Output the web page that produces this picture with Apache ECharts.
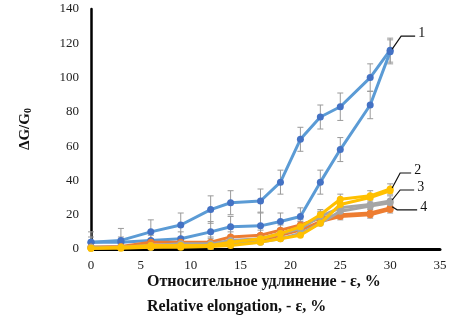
<!DOCTYPE html>
<html lang="ru">
<head>
    <meta charset="UTF-8">
    <title>ΔG/G0 vs elongation</title>
    <script src="https://cdn.jsdelivr.net/npm/echarts@6/dist/echarts.min.js"></script>
    <style>
        html, body { margin: 0; padding: 0; background: #fff; }
        #chart { width: 475px; height: 319px; }
    </style>
</head>
<body>
    <div id="chart"></div>
    <script>
        // относительное удлинение, %
        var strain = [0, 3, 6, 9, 12, 14, 17, 19, 21, 23, 25, 28, 30];

        // кривая 1 (нагрузка / разгрузка)
        var s1a = [4, 5, 10, 14, 23, 27, 28, 39, 64, 77, 83, 100, 116];
        var s1b = [4, 4, 5, 6, 10, 13, 13.5, 16, 19, 39, 58, 84, 115];
        var e1a = [6, 7, 7, 7, 8, 7, 7, 7, 7, 7, 8, 8, 7];
        var e1b = [3, 3, 3, 4, 6, 6, 8, 5, 5, 7, 7, 8, 7];

        // кривая 2
        var s2a = [0.5, 1, 2, 2, 2, 4, 6, 9, 13, 20, 29, 31, 35];
        var s2b = [0.5, 0.5, 1, 1, 1.5, 2, 4, 6, 8, 15, 26, 30, 34];
        // кривая 3
        var s3a = [1, 1, 2, 3, 3, 5, 6, 9, 12, 19, 24, 26, 28];
        var s3b = [0.5, 1, 1, 2, 2, 3, 4, 6, 9, 15, 22, 25, 27];
        // кривая 4
        var s4a = [1, 1.5, 4, 4, 4, 7, 8, 11, 14, 18, 20, 21, 24];
        var s4b = [1, 1, 2, 2, 3, 4, 5, 8, 11, 16, 19, 20, 23];
        var eSmall = [1, 1, 2, 2, 3, 3, 3, 3, 3, 3, 3, 3, 3];

        var xTicks = [0, 5, 10, 15, 20, 25, 30, 35];
        var yTicks = [0, 20, 40, 60, 80, 100, 120, 140];

        var BLUE_LINE = '#5b9bd5', BLUE_DOT = '#4472c4';
        var ORANGE = '#ed7d31', GRAY = '#a5a5a5', YELLOW = '#ffc000';
        var FONT = '"Liberation Serif", "Times New Roman", serif';

        var chart = echarts.init(document.getElementById('chart'));

        function pairs(ys) {
            return strain.map(function (x, i) { return [x, ys[i]]; });
        }

        function lineSeries(ys, lineColor, dotColor, z) {
            return {
                type: 'line',
                data: pairs(ys),
                symbol: 'circle',
                symbolSize: 7,
                z: z,
                lineStyle: { color: lineColor, width: 3 },
                itemStyle: { color: dotColor },
                emphasis: { disabled: true }
            };
        }

        // планки погрешностей
        function errSeries(ys, es) {
            var data = strain.map(function (x, i) { return [x, ys[i], es[i]]; });
            return {
                type: 'custom',
                z: 1,
                silent: true,
                data: data,
                renderItem: function (params, api) {
                    var x = api.value(0), y = api.value(1), e = api.value(2);
                    var hi = api.coord([x, y + e]);
                    var lo = api.coord([x, Math.max(y - e, 0)]);
                    var st = { stroke: '#9a9a9a', lineWidth: 1 };
                    return {
                        type: 'group',
                        children: [
                            { type: 'line', shape: { x1: hi[0], y1: hi[1], x2: lo[0], y2: lo[1] }, style: st },
                            { type: 'line', shape: { x1: hi[0] - 3, y1: hi[1], x2: hi[0] + 3, y2: hi[1] }, style: st },
                            { type: 'line', shape: { x1: lo[0] - 3, y1: lo[1], x2: lo[0] + 3, y2: lo[1] }, style: st }
                        ]
                    };
                }
            };
        }

        var option = {
            animation: false,
            grid: { left: 91, right: 35, top: 9, bottom: 70 },
            xAxis: {
                type: 'value',
                min: xTicks[0],
                max: xTicks[xTicks.length - 1],
                interval: 5,
                axisLine: { onZero: false, lineStyle: { color: '#000', width: 3 } },
                axisTick: { show: false },
                splitLine: { show: false },
                axisLabel: { color: '#222', fontFamily: FONT, fontSize: 13, margin: 10 }
            },
            yAxis: {
                type: 'value',
                min: yTicks[0],
                max: yTicks[yTicks.length - 1],
                interval: 20,
                axisLine: { show: true, lineStyle: { color: '#000', width: 2.5 } },
                axisTick: { show: false },
                splitLine: { show: false },
                axisLabel: { color: '#222', fontFamily: FONT, fontSize: 13, margin: 12 },
                name: '{m|ΔG/G}{s|0}',
                nameLocation: 'middle',
                nameGap: 58,
                nameTextStyle: {
                    rich: {
                        m: { fontFamily: FONT, fontSize: 15, fontWeight: 'bold', color: '#111' },
                        s: { fontFamily: FONT, fontSize: 10, fontWeight: 'bold', color: '#111', verticalAlign: 'bottom', padding: [6, 0, 0, 0] }
                    }
                }
            },
            series: [
                errSeries(s1a, e1a), errSeries(s1b, e1b),
                errSeries(s4a, eSmall), errSeries(s3a, eSmall), errSeries(s2a, eSmall),
                lineSeries(s1a, BLUE_LINE, BLUE_DOT, 3),
                lineSeries(s1b, BLUE_LINE, BLUE_DOT, 3),
                lineSeries(s4a, ORANGE, ORANGE, 4),
                lineSeries(s4b, ORANGE, ORANGE, 4),
                lineSeries(s3a, GRAY, GRAY, 5),
                lineSeries(s3b, GRAY, GRAY, 5),
                lineSeries(s2a, YELLOW, YELLOW, 6),
                lineSeries(s2b, YELLOW, YELLOW, 6)
            ]
        };
        chart.setOption(option);

        // номера кривых с выносками от последней точки
        var last = strain.length - 1;
        var callouts = [
            { name: '1', y: s1a[last], dx: 9, dy: -13, len: 14 },
            { name: '2', y: s2a[last], dx: 8, dy: -15, len: 11 },
            { name: '3', y: s3a[last], dx: 8, dy: -10, len: 14 },
            { name: '4', y: s4a[last], dx: 5, dy: 3, len: 20 }
        ];
        var graphics = [];
        callouts.forEach(function (c) {
            var p = chart.convertToPixel({ gridIndex: 0 }, [strain[last], c.y]);
            var x0 = p[0] + 2, y0 = p[1] - 1;
            var x1 = x0 + c.dx, y1 = y0 + c.dy;
            var x2 = x1 + c.len;
            graphics.push({
                type: 'polyline', z: 10,
                shape: { points: [[x0, y0], [x1, y1], [x2, y1]] },
                style: { stroke: '#111', lineWidth: 1.2, fill: null }
            });
            graphics.push({
                type: 'text', z: 10, x: x2 + 3, y: y1 - 3,
                style: { text: c.name, font: '14px ' + FONT, fill: '#111', verticalAlign: 'middle' }
            });
        });
        graphics.push({
            type: 'text', left: 147, top: 274,
            style: { text: 'Относительное удлинение - ε, %', font: 'bold 16px ' + FONT, fill: '#111' }
        });
        graphics.push({
            type: 'text', left: 147, top: 299,
            style: { text: 'Relative elongation, - ε, %', font: 'bold 16px ' + FONT, fill: '#111' }
        });
        chart.setOption({ graphic: graphics });
    </script>
</body>
</html>
